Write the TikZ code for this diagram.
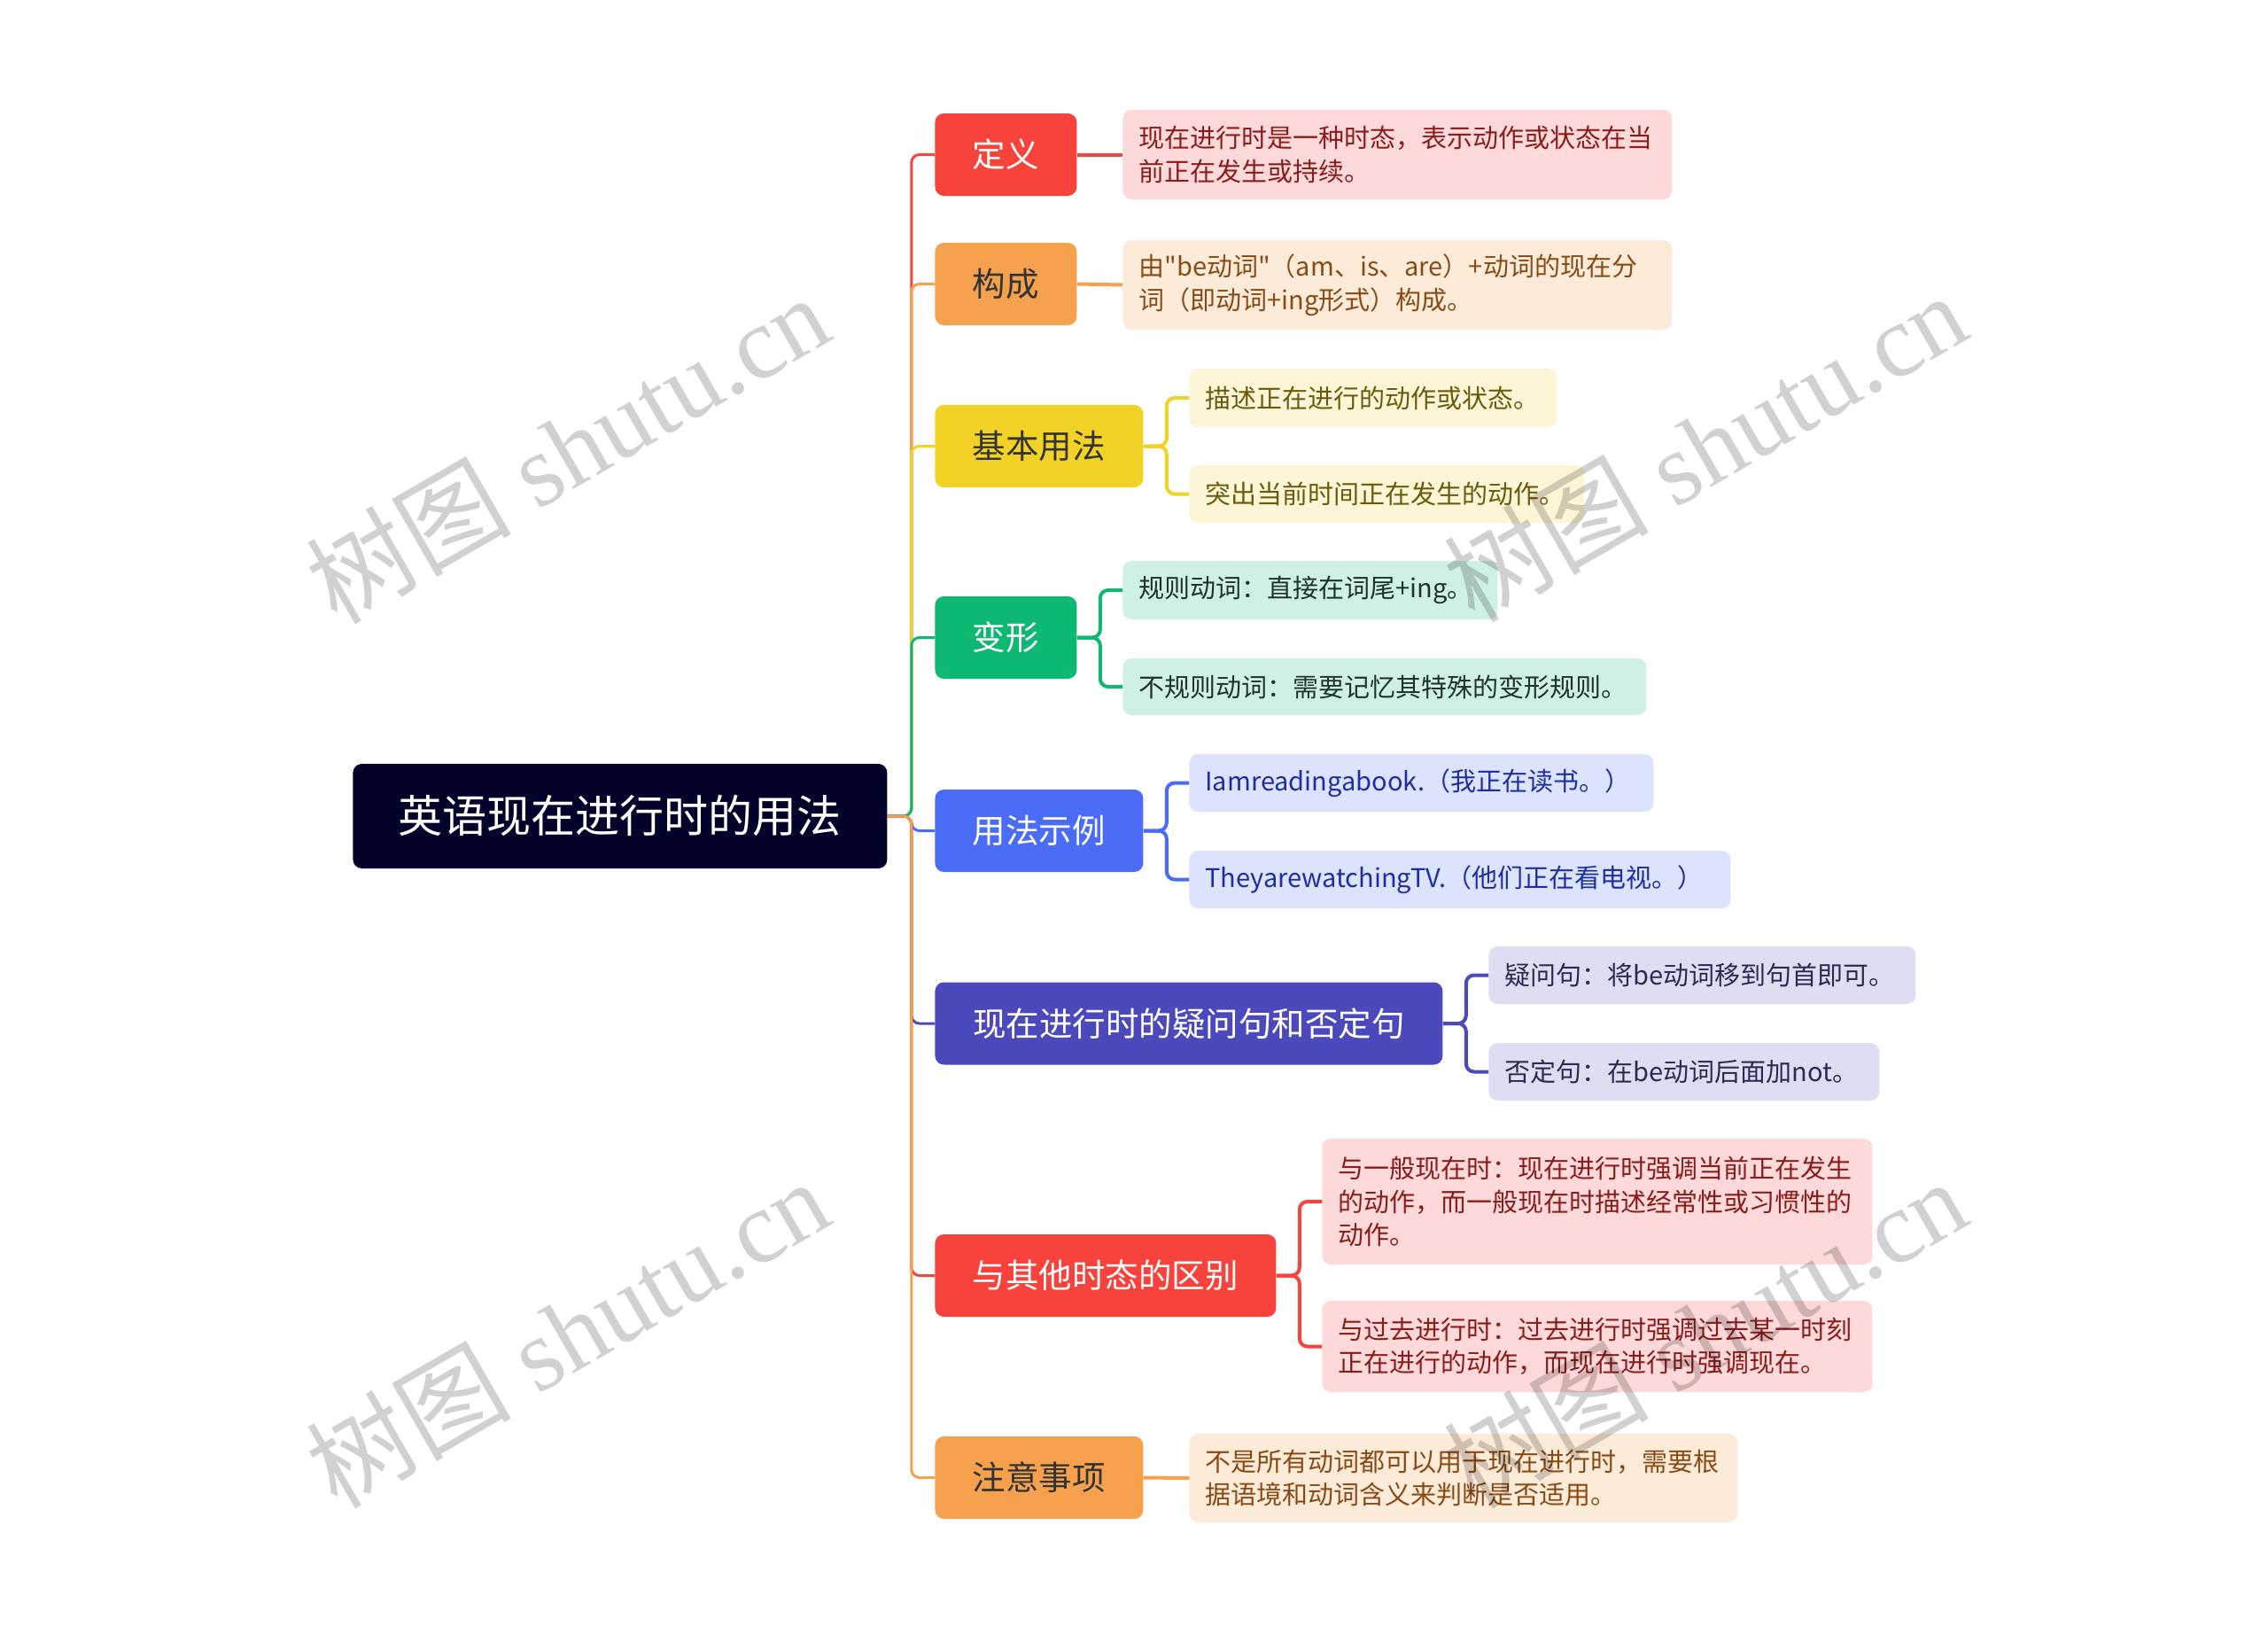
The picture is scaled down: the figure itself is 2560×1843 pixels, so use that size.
\documentclass[tikz,border=0pt]{standalone}
\usepackage{fontspec}
\newfontfamily\cjk{Noto Sans CJK SC}
\newfontfamily\wmlatin{Liberation Serif}
\definecolor{cRed}{HTML}{F7433B}
\definecolor{cOrg}{HTML}{F5A14D}
\definecolor{cYel}{HTML}{F2D325}
\definecolor{cGrn}{HTML}{0DB873}
\definecolor{cBlu}{HTML}{4A6CF7}
\definecolor{cInd}{HTML}{4B49BC}
\definecolor{lRed}{HTML}{FDD9D9}
\definecolor{lOrg}{HTML}{FDEBDA}
\definecolor{lYel}{HTML}{FDF6D6}
\definecolor{lGrn}{HTML}{CFF1E3}
\definecolor{lBlu}{HTML}{DCE3FD}
\definecolor{lInd}{HTML}{DEDEF3}
\definecolor{tRed}{HTML}{8A1C1C}
\definecolor{tOrg}{HTML}{8A4A14}
\definecolor{tYel}{HTML}{6A5A0E}
\definecolor{tGrn}{HTML}{1F3329}
\definecolor{tBlu}{HTML}{1E2E9E}
\definecolor{tInd}{HTML}{2A2A55}
\definecolor{rootc}{HTML}{03022B}
\definecolor{darktxt}{HTML}{333333}
\tikzset{
  rootbox/.style={fill=rootc, text=white, rounded corners=5pt, anchor=west,
    minimum width=301.5pt, minimum height=59pt, inner sep=0pt,
    font=\cjk\fontsize{25}{30}\selectfont},
  branch/.style={rounded corners=5pt, anchor=west, minimum height=46.5pt,
    inner sep=0pt, font=\cjk\fontsize{18.75}{22}\selectfont},
  leaf/.style={rounded corners=5pt, anchor=west, inner xsep=9pt, inner ysep=0pt,
    align=left, font=\cjk\fontsize{14.5}{18.75}\selectfont},
  conn/.style={line width=1.5pt, rounded corners=4.5pt},
  leafconn/.style={line width=2pt, rounded corners=4.5pt},
  wm/.style={text=black, opacity=0.18, rotate=30, inner sep=0pt,
    font=\cjk\fontsize{58}{64}\selectfont}
}
\begin{document}
\begin{tikzpicture}[x=0.5pt,y=-0.5pt]
\useasboundingbox (0,0) rectangle (2560,1843);
\fill[white] (0,0) rectangle (2560,1843);

% root
\node[rootbox] (root) at (398,921) {英语现在进行时的用法};

% branches
\node[branch, fill=cRed, text=white, minimum width=80pt] (b1) at (1055,174.5) {定义};
\node[branch, fill=cOrg, text=darktxt, minimum width=80pt] (b2) at (1055,320.5) {构成};
\node[branch, fill=cYel, text=darktxt, minimum width=117.5pt] (b3) at (1055,503.5) {基本用法};
\node[branch, fill=cGrn, text=white, minimum width=80pt] (b4) at (1055,719.5) {变形};
\node[branch, fill=cBlu, text=white, minimum width=117.5pt] (b5) at (1055,937.5) {用法示例};
\node[branch, fill=cInd, text=white, minimum width=286.5pt] (b6) at (1055,1155) {现在进行时的疑问句和否定句};
\node[branch, fill=cRed, text=white, minimum width=192.5pt] (b7) at (1055,1439.5) {与其他时态的区别};
\node[branch, fill=cOrg, text=darktxt, minimum width=117.5pt] (b8) at (1055,1667.5) {注意事项};

% leaves
\node[leaf, fill=lRed, text=tRed, text width=292pt, minimum height=50.5pt] (l1) at (1267,174.5)
  {现在进行时是一种时态，表示动作或状态在当\\前正在发生或持续。};
\node[leaf, fill=lOrg, text=tOrg, text width=292pt, minimum height=50.5pt] (l2) at (1267,321.5)
  {由"be动词"（am、is、are）+动词的现在分\\词（即动词+ing形式）构成。};
\node[leaf, fill=lYel, text=tYel, text width=189.5pt, minimum height=33pt] (l3a) at (1342,449)
  {描述正在进行的动作或状态。};
\node[leaf, fill=lYel, text=tYel, text width=205pt, minimum height=32.5pt] (l3b) at (1342,557.5)
  {突出当前时间正在发生的动作。};
\node[leaf, fill=lGrn, text=tGrn, text width=193.5pt, minimum height=33pt] (l4a) at (1267,666)
  {规则动词：直接在词尾+ing。};
\node[leaf, fill=lGrn, text=tGrn, text width=277.5pt, minimum height=32pt] (l4b) at (1267,775)
  {不规则动词：需要记忆其特殊的变形规则。};
\node[leaf, fill=lBlu, text=tBlu, text width=244pt, minimum height=32.5pt] (l5a) at (1342,883.5)
  {Iamreadingabook.（我正在读书。）};
\node[leaf, fill=lBlu, text=tBlu, text width=287.5pt, minimum height=32.5pt] (l5b) at (1342,992.5)
  {TheyarewatchingTV.（他们正在看电视。）};
\node[leaf, fill=lInd, text=tInd, text width=223pt, minimum height=32.5pt] (l6a) at (1680,1100.5)
  {疑问句：将be动词移到句首即可。};
\node[leaf, fill=lInd, text=tInd, text width=202.5pt, minimum height=32.5pt] (l6b) at (1680,1209.5)
  {否定句：在be动词后面加not。};
\node[leaf, fill=lRed, text=tRed, text width=292.5pt, minimum height=71pt] (l7a) at (1492,1356)
  {与一般现在时：现在进行时强调当前正在发生\\的动作，而一般现在时描述经常性或习惯性的\\动作。};
\node[leaf, fill=lRed, text=tRed, text width=292.5pt, minimum height=51.5pt] (l7b) at (1492,1519.5)
  {与过去进行时：过去进行时强调过去某一时刻\\正在进行的动作，而现在进行时强调现在。};
\node[leaf, fill=lOrg, text=tOrg, text width=291.5pt, minimum height=50pt] (l8) at (1342,1668)
  {不是所有动词都可以用于现在进行时，需要根\\据语境和动词含义来判断是否适用。};

% root to branch connectors
\draw[conn, cRed] (root.east) -- ++(27,0) |- (b1.west);
\draw[conn, cOrg] (root.east) -- ++(27,0) |- (b2.west);
\draw[conn, cYel] (root.east) -- ++(27,0) |- (b3.west);
\draw[conn, cGrn] (root.east) -- ++(27,0) |- (b4.west);
\draw[conn, cBlu] (root.east) -- ++(27,0) |- (b5.west);
\draw[conn, cInd] (root.east) -- ++(27,0) |- (b6.west);
\draw[conn, cRed] (root.east) -- ++(27,0) |- (b7.west);
\draw[conn, cOrg] (root.east) -- ++(27,0) |- (b8.west);

% branch to leaf connectors
\draw[leafconn, cRed] (b1.east) -- (l1.west);
\draw[leafconn, cOrg] (b2.east) -- (l2.west);
\draw[leafconn, cYel] (b3.east) -- ++(26,0) |- (l3a.west);
\draw[leafconn, cYel] (b3.east) -- ++(26,0) |- (l3b.west);
\draw[leafconn, cGrn] (b4.east) -- ++(26,0) |- (l4a.west);
\draw[leafconn, cGrn] (b4.east) -- ++(26,0) |- (l4b.west);
\draw[leafconn, cBlu] (b5.east) -- ++(26,0) |- (l5a.west);
\draw[leafconn, cBlu] (b5.east) -- ++(26,0) |- (l5b.west);
\draw[leafconn, cInd] (b6.east) -- ++(26,0) |- (l6a.west);
\draw[leafconn, cInd] (b6.east) -- ++(26,0) |- (l6b.west);
\draw[leafconn, cRed] (b7.east) -- ++(26,0) |- (l7a.west);
\draw[leafconn, cRed] (b7.east) -- ++(26,0) |- (l7b.west);
\draw[leafconn, cOrg] (b8.east) -- (l8.west);

% watermarks
\node[wm] (wm1) at (640,506) {树图{\wmlatin\ shutu.cn}};
\node[wm] (wm2) at (1924,504) {树图{\wmlatin\ shutu.cn}};
\node[wm] (wm3) at (640,1504) {树图{\wmlatin\ shutu.cn}};
\node[wm] (wm4) at (1924,1504) {树图{\wmlatin\ shutu.cn}};
\end{tikzpicture}
\end{document}
